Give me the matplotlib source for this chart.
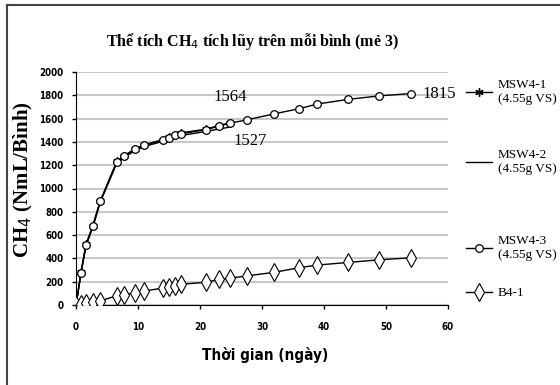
import matplotlib
matplotlib.use("Agg")
from matplotlib import pyplot as plt
from matplotlib.lines import Line2D
from matplotlib.font_manager import FontProperties

# sampling days (shared by every bottle)
days = [0, 0.8, 1.6, 2.7, 3.9, 6.6, 7.7, 9.5, 11, 14, 15, 16, 17,
        21, 23, 24.8, 27.6, 31.9, 36, 38.9, 43.9, 48.9, 54]

# cumulative CH4 (NmL per bottle)
msw41 = [0, 280, 520, 680, 890, 1235, 1280, 1340, 1375, 1420, 1440,
         1460, 1478, 1510, 1540, 1564]
msw42 = [0, 265, 505, 665, 880, 1220, 1265, 1325, 1360, 1405, 1420,
         1440, 1455, 1490, 1510, 1527]
msw43 = [0, 275, 515, 675, 890, 1230, 1275, 1335, 1370, 1415, 1435,
         1455, 1470, 1505, 1535, 1560, 1590, 1640, 1685, 1725, 1765,
         1795, 1815]
b41 = [0, 8, 15, 25, 35, 80, 88, 105, 120, 145, 155, 165, 178, 195,
       220, 230, 250, 280, 320, 343, 365, 388, 405]

labels = ["MSW4-1\n(4.55g VS)", "MSW4-2\n(4.55g VS)",
          "MSW4-3\n(4.55g VS)", "B4-1"]
xticks = [0, 10, 20, 30, 40, 50, 60]
yticks = list(range(0, 2001, 200))

serif = ["Liberation Serif", "DejaVu Serif"]
tickfont = FontProperties(family="DejaVu Sans", weight="bold",
                          stretch="condensed", size=7)

fig = plt.figure(figsize=(5.6, 3.85), dpi=100)
ax = fig.add_axes([76 / 560, 1 - 305 / 385, 372 / 560, 233 / 385])

n1 = len(msw41)
l2, = ax.plot(days[:n1], msw42, color="black", lw=1.0, zorder=3)
l1, = ax.plot(days[:n1], msw41, color="black", lw=1.0, marker=(6, 2, 0),
              ms=6, mew=1.0, zorder=4)
l3, = ax.plot(days, msw43, color="black", lw=1.0, marker="o", ms=5.5,
              mfc="white", mec="black", mew=0.9, zorder=5)
l4, = ax.plot(days, b41, color="black", lw=1.0, marker="d", ms=9,
              mfc="white", mec="black", mew=0.8, zorder=5)

# end-point values
ax.annotate(str(msw41[-1]), xy=(days[n1 - 1], msw41[-1]), xytext=(0, 26),
            textcoords="offset pixels", ha="center", va="center",
            family=serif, fontsize=12)
ax.annotate(str(msw42[-1]), xy=(days[n1 - 1], msw42[-1]), xytext=(20, -14),
            textcoords="offset pixels", ha="center", va="center",
            family=serif, fontsize=12)
ax.annotate(str(msw43[-1]), xy=(days[-1], msw43[-1]), xytext=(12, 0),
            textcoords="offset pixels", ha="left", va="center",
            family=serif, fontsize=12)

ax.set_xlim(0, 60)
ax.set_ylim(0, 2000)
ax.set_xticks(xticks)
ax.set_yticks(yticks)
for lab in ax.get_xticklabels() + ax.get_yticklabels():
    lab.set_fontproperties(tickfont)
ax.tick_params(direction="out", length=3, width=1)
ax.tick_params(axis="x", pad=9)
ax.tick_params(axis="y", pad=6)
ax.grid(axis="y", color="#c8c8c8", lw=1.5)
ax.set_axisbelow(True)
for s in ["top", "right"]:
    ax.spines[s].set_visible(False)

fig.text(253 / 560, 1 - 42 / 385, "Thể tích CH$_4$ tích lũy trên mỗi bình (mẻ 3)",
         ha="center", va="center", family=serif, weight="bold", fontsize=11.5)
fig.text(23 / 560, 1 - 180 / 385, "CH$_4$ (NmL/Bình)", rotation=90,
         ha="center", va="center", family=serif, weight="bold", fontsize=15)
fig.text(265 / 560, 1 - 355 / 385, "Thời gian (ngày)", ha="center",
         va="center", family="DejaVu Sans", stretch="condensed",
         weight="bold", fontsize=11)

# one legend box per series, stacked down the right side
leg_y = [92, 162, 248, 293]
for h, lab, y in zip([l1, l2, l3, l4], labels, leg_y):
    leg = fig.legend([h], [lab], loc="center left",
                     bbox_to_anchor=(466 / 560, 1 - y / 385),
                     frameon=False, prop=dict(family=serif, size=9.5),
                     handlelength=2.0, handletextpad=0.4,
                     borderpad=0, borderaxespad=0)
    for t in leg.get_texts():
        t.set_multialignment("left")

# chart frame (left and top edges only are within the image)
fig.add_artist(Line2D([7 / 560, 7 / 560], [0, 1 - 5 / 385],
                      transform=fig.transFigure, color="#444444", lw=1.5))
fig.add_artist(Line2D([7 / 560, 1], [1 - 5 / 385, 1 - 5 / 385],
                      transform=fig.transFigure, color="#444444", lw=1.5))

fig.savefig("out.png", dpi=100)
